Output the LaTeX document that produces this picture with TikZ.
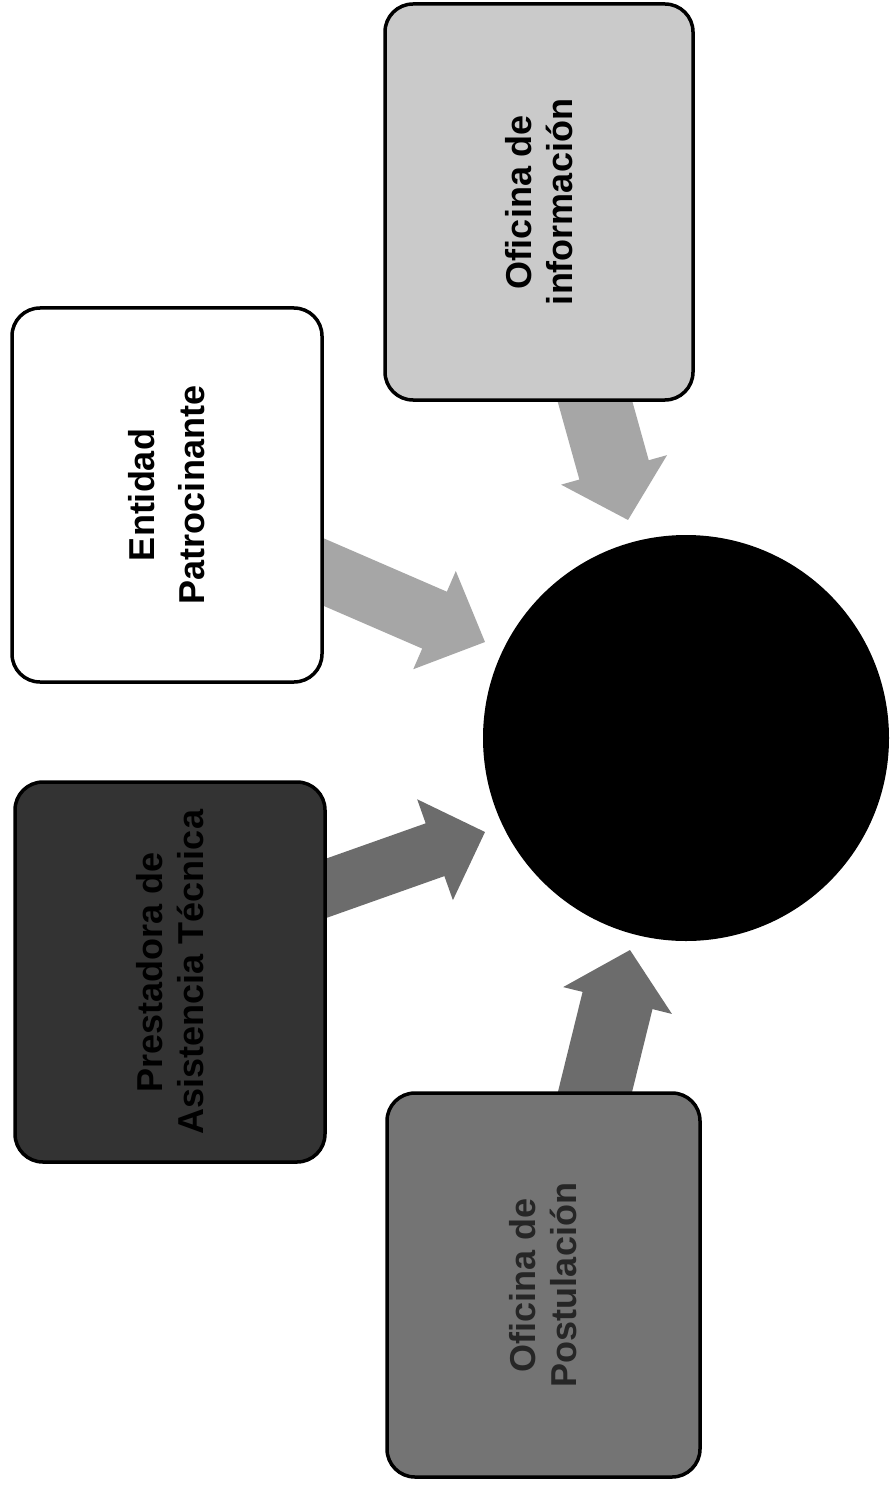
\documentclass[tikz,border=0pt]{standalone}
\usepackage{fontspec}
\setmainfont{Liberation Sans}
\usetikzlibrary{calc,backgrounds}
\definecolor{infofill}{HTML}{CACACA}
\definecolor{postfill}{HTML}{747474}
\definecolor{darkfill}{HTML}{333333}
\definecolor{lightarrow}{HTML}{A6A6A6}
\definecolor{darkarrow}{HTML}{6C6C6C}
\newcommand{\blockarrow}[6]{%
  \fill[#6] let \p1=(#1), \p2=(#2),
    \n1={atan2(\y2-\y1,\x2-\x1)}, \n2={veclen(\x2-\x1,\y2-\y1)} in
    ([shift={(\p1)},rotate=\n1]0,{#3/2})
 -- ([shift={(\p1)},rotate=\n1]{\n2-#5},{#3/2})
 -- ([shift={(\p1)},rotate=\n1]{\n2-#5},{#4/2})
 -- ([shift={(\p1)},rotate=\n1]{\n2},0)
 -- ([shift={(\p1)},rotate=\n1]{\n2-#5},{-#4/2})
 -- ([shift={(\p1)},rotate=\n1]{\n2-#5},{-#3/2})
 -- ([shift={(\p1)},rotate=\n1]0,{-#3/2}) -- cycle;}
\tikzset{
  box/.style={draw=black, line width=3.5pt, rounded corners=28pt, inner sep=0pt},
  boxtext/.style={rotate=90, align=center, inner sep=0pt,
    font=\bfseries\fontsize{36}{41}\selectfont},
}
\begin{document}
\begin{tikzpicture}[x=1pt,y=-1pt]
\useasboundingbox (0,0) rectangle (889,1487);
% boxes
\node[box, fill=infofill, minimum width=308pt, minimum height=396pt] (info) at (539,202) {};
\node[box, fill=white, minimum width=310pt, minimum height=374pt] (entidad) at (167,495) {};
\node[box, fill=darkfill, minimum width=310pt, minimum height=380pt] (dark) at (170,972) {};
\node[box, fill=postfill, minimum width=313pt, minimum height=384pt] (post) at (543.5,1285) {};
\node[circle, fill=black, minimum size=406pt, inner sep=0pt] (c) at (686,738) {};
% texts
\node[boxtext] (infot) at (info.center) {Oficina de\\información};
\node[boxtext, font=\bfseries\fontsize{36}{50}\selectfont] (entidadt) at (entidad.center) {Entidad\\Patrocinante};
\node[boxtext, text=black] (darkt) at (dark.center) {Prestadora de\\Asistencia Técnica};
\node[boxtext, text=black!85] (postt) at (post.center) {Oficina de\\Postulación};
% connector ends
\coordinate (s1) at ($(info.south)+(48,-29)$);
\coordinate (s2) at ($(entidad.east)+(-28,65)$);
\coordinate (s3) at ($(dark.east)+(-28,-74)$);
\coordinate (s4) at ($(post.north)+(44.5,29)$);
\coordinate (t1) at ($(c.center)+(-58,-218)$);
\coordinate (t2) at ($(c.center)+(-201,-96)$);
\coordinate (t3) at ($(c.center)+(-201,94)$);
\coordinate (t4) at ($(c.center)+(-56,212)$);
\begin{scope}[on background layer]
\fill[white] (0,0) rectangle (889,1487);
\blockarrow{s1}{t1}{72}{110}{52}{lightarrow}
\blockarrow{s2}{t2}{62}{107}{55}{lightarrow}
\blockarrow{s3}{t3}{56}{107}{53}{darkarrow}
\blockarrow{s4}{t4}{72}{112}{52}{darkarrow}
\end{scope}
\end{tikzpicture}
\end{document}
